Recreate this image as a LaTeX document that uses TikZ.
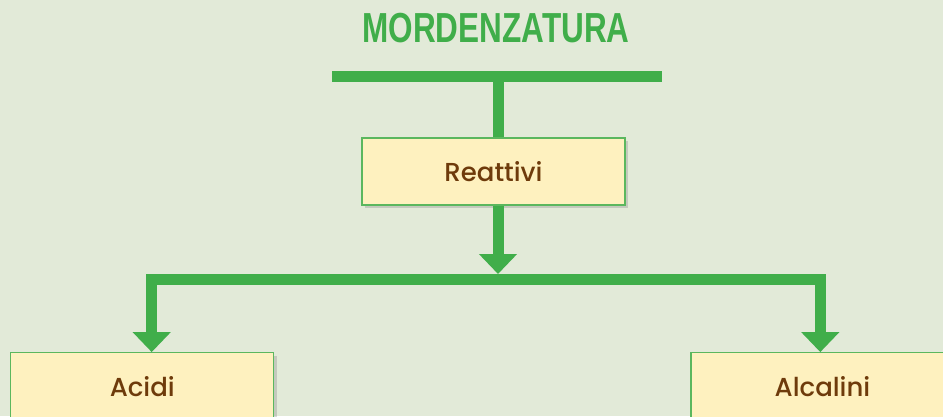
\documentclass[tikz,border=0pt]{standalone}
\usepackage{fontspec}
\usepackage{graphicx}
\setmainfont{Poppins}
\newfontfamily\boxfont{Poppins Medium}
\newfontfamily\titlefont{Liberation Sans}
\usetikzlibrary{arrows.meta,shadows}

\definecolor{bgcolor}{HTML}{E2EAD8}
\definecolor{flowgreen}{HTML}{40AE4A}
\definecolor{boxfill}{HTML}{FEF1BF}
\definecolor{boxline}{HTML}{5BB75E}
\definecolor{textbrown}{HTML}{6E3B0B}

\tikzset{
  box/.style={draw=boxline, line width=1.2pt, fill=boxfill,
    minimum width=263pt, minimum height=67pt, inner sep=0pt,
    text=textbrown, font=\boxfont\fontsize{26}{30}\selectfont,
    drop shadow={shadow xshift=3pt, shadow yshift=-3pt, opacity=0.3}},
  flow/.style={draw=flowgreen, line width=11pt},
  bigtip/.style={-{Triangle[width=37pt,length=20pt]}},
  bothtips/.style={{Triangle[width=37pt,length=20pt]}-{Triangle[width=37pt,length=20pt]}}
}

\begin{document}
\begin{tikzpicture}[x=1pt,y=-1pt]
    % Page and background
    \useasboundingbox (0,0) rectangle (943,416);
    \fill[bgcolor] (0,0) rectangle (943,416);

    % Title and bar
    \node[text=flowgreen, font=\titlefont\bfseries\fontsize{42}{48}\selectfont] (title) at (496,28) {\scalebox{0.75}[1]{MORDENZATURA}};
    \coordinate (barL) at (332,76.5);
    \coordinate (barR) at (662,76.5);
    \coordinate (top) at (498,76.5);
    \draw[flow] (barL) -- (barR);

    % Boxes
    \node[box] (reattivi) at (493.5,171.5) {Reattivi};
    \node[box] (acidi) at (142.3,386.2) {Acidi};
    \node[box] (alcalini) at (822.5,386.2) {Alcalini};

    % Connectors
    \coordinate (hub) at (498,274);
    \coordinate (splitL) at (151.7,279.5);
    \coordinate (splitR) at (820.3,279.5);
    \draw[flow] (top) -- (top |- reattivi.north);
    \draw[flow, bigtip] (top |- reattivi.south) -- (hub);
    \draw[flow, bothtips, line join=miter] (splitL |- acidi.north) -- (splitL) -- (splitR) -- (splitR |- alcalini.north);
\end{tikzpicture}
\end{document}
